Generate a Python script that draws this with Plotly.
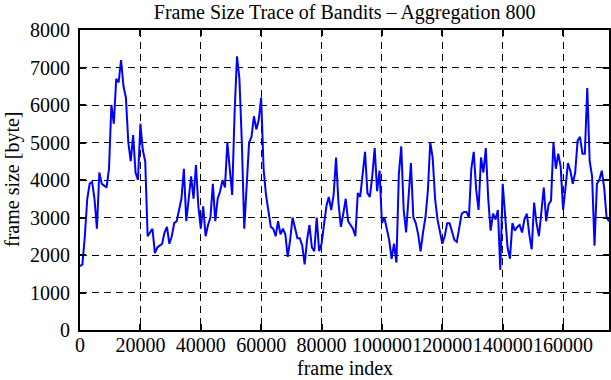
import plotly.graph_objects as go

# Aggregated frame sizes (bytes), one value per 800 frames
aggregation = 800
frame_size = [
    1700, 1750, 2500, 3500, 3900, 3950, 3500, 2700, 4200, 3900,
    3850, 3800, 4300, 6000, 5500, 6700, 6600, 7200, 6500, 6200,
    5000, 4500, 5200, 4200, 4000, 5500, 4800, 4500, 2500, 2600,
    2700, 2050, 2200, 2250, 2300, 2600, 2750, 2300, 2500, 2850,
    2900, 3200, 3500, 4300, 2900, 3500, 4100, 3500, 4400, 3300,
    2700, 3300, 2500, 2800, 3000, 3900, 2900, 3500, 3700, 4000,
    3800, 5000, 4200, 3600, 5800, 7300, 6700, 5000, 2700, 3900,
    5000, 5150, 5700, 5350, 5600, 6200, 4300, 3600, 3100, 2750,
    2700, 2500, 2900, 2550, 2700, 2550, 1950, 2400, 3000, 2700,
    2450, 2450, 2250, 1750, 2400, 2800, 2200, 2100, 3000, 2100,
    2300, 2800, 3300, 3550, 3200, 3600, 4600, 3400, 2750, 3100,
    3500, 2900, 2800, 2700, 2500, 3650, 3550, 4200, 4750, 3650,
    3550, 4100, 4850, 3700, 4250, 2850, 3000, 2700, 2400, 1900,
    2300, 1800, 4150, 4900, 3200, 2600, 3400, 4450, 3000, 2850,
    2550, 2100, 2600, 3000, 3700, 5000, 4600, 3500, 2950, 2650,
    2300, 2500, 2850, 2850, 2650, 2400, 2350, 2700, 3100, 3150,
    3150, 3000, 4300, 4750, 3750, 3200, 4600, 4200, 4850, 3500,
    2650, 3100, 2950, 3200, 1600, 3900, 3000, 2200, 1900, 2850,
    2650, 2750, 2800, 2600, 2950, 3100, 2550, 2150, 3400, 2850,
    2500, 3200, 3800, 2900, 3350, 3450, 5000, 4300, 4700, 4350,
    3200, 3800, 4450, 4250, 3900, 4200, 5050, 5150, 4700, 4700,
    6450, 4500, 4100, 2250, 3900, 4000, 4250, 3800, 3000, 2900,
]
frame_index = [i * aggregation for i in range(len(frame_size))]

x_ticks = [0, 20000, 40000, 60000, 80000, 100000, 120000, 140000, 160000]
y_ticks = [0, 1000, 2000, 3000, 4000, 5000, 6000, 7000, 8000]

title_text = "Frame Size Trace of Bandits \u2013 Aggregation 800"
x_title = "frame index"
y_title = "frame size [byte]"

FONT = "Liberation Serif"

fig = go.Figure()
fig.add_trace(go.Scatter(
    x=frame_index, y=frame_size, mode="lines",
    line=dict(color="#0000ff", width=2), showlegend=False,
))

axis_common = dict(
    showline=True, linecolor="black", linewidth=2, mirror="ticks",
    ticks="inside", ticklen=6, tickwidth=1.5, tickcolor="black",
    showgrid=True, gridcolor="black", gridwidth=1, griddash="7px,5px",
    zeroline=False, automargin=False,
    tickfont=dict(family=FONT, size=20, color="black"),
)

fig.update_xaxes(range=[0, frame_index[-1]], tickvals=x_ticks,
                 ticktext=[str(v) for v in x_ticks], tickangle=0,
                 ticklabelstandoff=-4, **axis_common)
fig.update_yaxes(range=[0, 8000], tickvals=y_ticks,
                 ticktext=[str(v) for v in y_ticks], ticklabelstandoff=4,
                 **axis_common)

fig.update_layout(
    width=611, height=380,
    margin=dict(l=80, r=2, t=30, b=50, pad=0),
    paper_bgcolor="white", plot_bgcolor="white",
    font=dict(family=FONT, size=20, color="black"),
    title=dict(text=title_text, x=0.564, xanchor="center", xref="container",
               y=1 - 12 / 380, yanchor="middle", yref="container",
               automargin=False,
               font=dict(family=FONT, size=20, color="black")),
    annotations=[
        dict(text=x_title, xref="paper", yref="paper", x=0.5, y=-38 / 300,
             xanchor="center", yanchor="middle", showarrow=False,
             font=dict(family=FONT, size=20, color="black")),
        dict(text=y_title, xref="paper", yref="paper", x=-68 / 529, y=0.5,
             xanchor="center", yanchor="middle", textangle=-90, showarrow=False,
             font=dict(family=FONT, size=20, color="black")),
    ],
)

fig.write_html("out.html", config={"displayModeBar": False},
               post_script="document.body.style.margin='0';document.body.style.overflow='hidden';")
